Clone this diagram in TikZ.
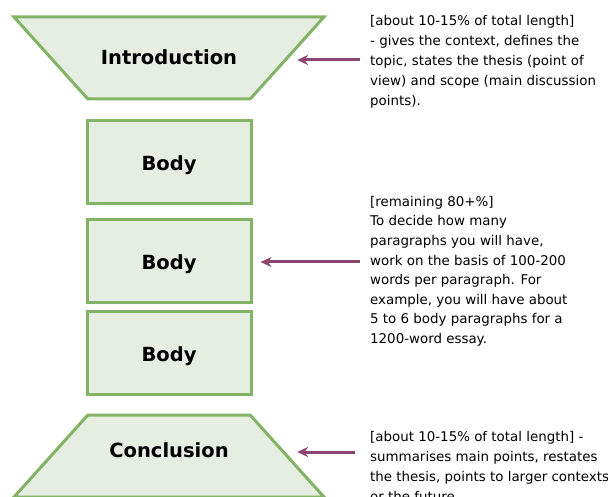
\documentclass[tikz,border=0pt]{standalone}
\usepackage{fontspec}
\setmainfont{DejaVu Sans}
\usetikzlibrary{shapes.geometric,arrows.meta,positioning}
\definecolor{leaf}{HTML}{82B366}
\definecolor{leaffill}{HTML}{E5EEE1}
\definecolor{plum}{HTML}{8E4470}

\begin{document}
\begin{tikzpicture}[
    x=1pt,y=1pt,
    node distance=18pt,
    part/.style={draw=leaf,fill=leaffill,line width=3pt,font=\fontsize{19.5}{22}\selectfont\bfseries},
    bodybox/.style={part,rectangle,minimum width=164pt,minimum height=83pt,text height=18pt,text depth=1pt},
    funnel/.style={part,trapezium,trapezium left angle=48,trapezium right angle=48,trapezium stretches body,
      text height=16pt,text depth=2pt,inner ysep=32pt,minimum width=310pt},
    note/.style={anchor=north west,inner sep=0pt,align=left,font=\fontsize{13.4}{20}\selectfont},
    arrow/.style={-{Stealth[length=11pt,width=10pt]},line width=3pt,draw=plum,shorten >=8pt}
  ]
    \useasboundingbox (0,0) rectangle (608,-497);
    \clip (0,0) rectangle (608,-497);
    \node[funnel,shape border rotate=180] (intro) at (169,-58) {Introduction};
    \node[bodybox,below=18pt of intro] (b1) {Body};
    \node[bodybox,below=13pt of b1] (b2) {Body};
    \node[bodybox,below=6pt of b2] (b3) {Body};
    \node[funnel,below=18pt of b3,text height=10pt,text depth=8pt] (concl) {Conclusion};
    \node[note] (n1) at (370,-15) {[about 10-15\% of total length]\\- gives the context, defines the\\topic, states the thesis (point of\\view) and scope (main discussion\\points).};
    \node[note,font=\fontsize{13.4}{19.6}\selectfont] (n2) at (370,-196) {[remaining 80+\%]\\To decide how many\\paragraphs you will have,\\work on the basis of 100-200\\words per paragraph. For\\example, you will have about\\5 to 6 body paragraphs for a\\1200-word essay.};
    \node[note] (n3) at (370,-431) {[about 10-15\% of total length] -\\summarises main points, restates\\the thesis, points to larger contexts\\or the future.};
    \coordinate (t1) at (360,-60);
    \coordinate (t2) at (360,-262);
    \coordinate (t3) at (355,-452);
    \draw[arrow] (t1) -- (t1 -| intro.east);
    \draw[arrow] (t2) -- (t2 -| b2.east);
    \draw[arrow] (t3) -- (t3 -| concl.east);
  \end{tikzpicture}
\end{document}
